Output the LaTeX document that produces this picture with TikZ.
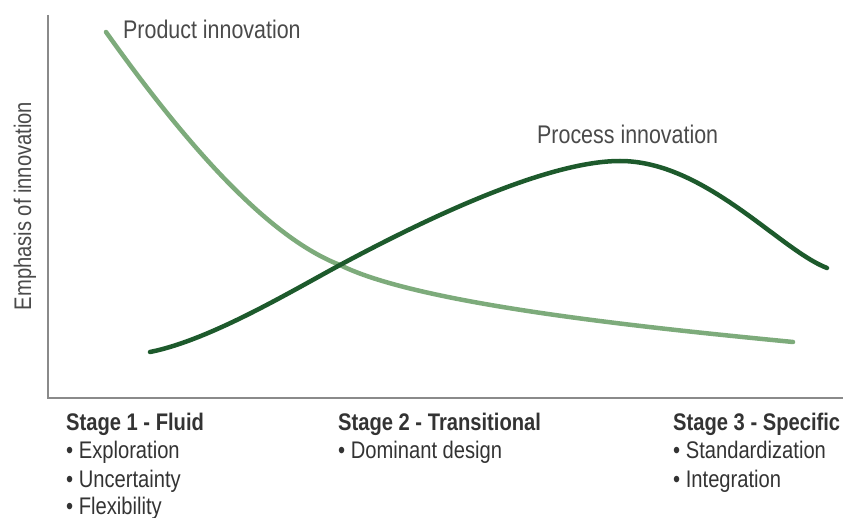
\documentclass[tikz,border=0pt]{standalone}
\usepackage{fontspec}
\setmainfont{Liberation Sans}[FakeStretch=0.84]
\begin{document}
\begin{tikzpicture}[x=1pt,y=-1pt,
  lbl/.style={inner sep=0pt,anchor=base west,text=txtgray,font=\fontsize{25.5}{30}\selectfont},
  stg/.style={inner sep=0pt,anchor=base west,text=stggray,font=\fontsize{24}{28}\selectfont\bfseries},
  itm/.style={inner sep=0pt,anchor=base west,text=stggray,font=\fontsize{24}{28}\selectfont},
  curve/.style={line width=4.5pt,line cap=round}]
\definecolor{txtgray}{HTML}{4A4A4A}
\definecolor{stggray}{HTML}{333333}
\definecolor{axgray}{HTML}{8A8A8A}
\definecolor{lightgr}{HTML}{7DAB7B}
\definecolor{darkgr}{HTML}{1D5A2C}
\useasboundingbox (0,0) rectangle (843,518);
% axes
\coordinate (top) at (48,15);
\coordinate (origin) at (48,398);
\coordinate (right) at (843,398);
\draw[axgray,line width=2pt] (top) -- (origin) -- (right);
% curves
\coordinate (pA) at (106,32);
\coordinate (pX) at (340,265);
\coordinate (pB) at (793,342);
\coordinate (qA) at (150,352);
\coordinate (qP) at (620,161);
\coordinate (qB) at (827,268);
\draw[curve,lightgr] (pA) .. controls (190,150) and (270,238) .. (pX)
  .. controls (420,305) and (650,328) .. (pB);
\draw[curve,darkgr] (qA) .. controls (210,340) and (290,292) .. (pX)
  .. controls (420,222) and (545,161) .. (qP)
  .. controls (705,161) and (780,250) .. (qB);
% labels
\node[lbl] (prod) at (123,39) {Product innovation};
\node[lbl] (proc) at (537,144) {Process innovation};
\node[lbl,anchor=base,rotate=90,font=\fontsize{24}{28}\selectfont] (yax) at (31,206) {Emphasis of innovation};
% stages
\node[stg] (s1) at (66,430) {Stage 1 - Fluid};
\node[itm] (s1a) at (66,458) {\textbullet\ Exploration};
\node[itm] (s1b) at (66,487) {\textbullet\ Uncertainty};
\node[itm] (s1c) at (66,514) {\textbullet\ Flexibility};
\node[stg] (s2) at (338,430) {Stage 2 - Transitional};
\node[itm] (s2a) at (338,458) {\textbullet\ Dominant design};
\node[stg] (s3) at (673,430) {Stage 3 - Specific};
\node[itm] (s3a) at (673,458) {\textbullet\ Standardization};
\node[itm] (s3b) at (673,487) {\textbullet\ Integration};
\end{tikzpicture}
\end{document}
